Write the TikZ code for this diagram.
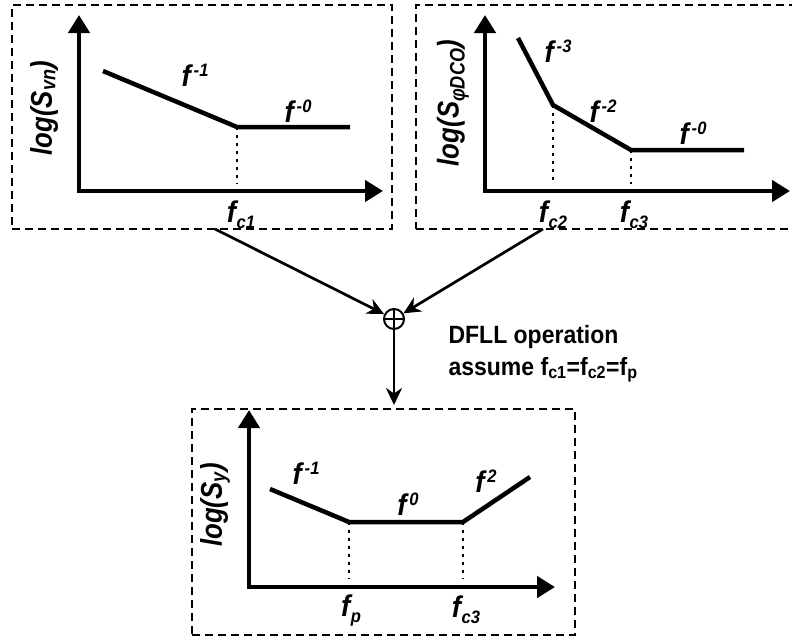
\documentclass[tikz,border=0pt]{standalone}
\usepackage{fontspec}
\setmainfont{Liberation Sans}[FakeStretch=0.92]
\usetikzlibrary{arrows.meta, positioning, calc}
\newcommand{\fpow}[1]{f\kern3pt\raisebox{10pt}{\fontsize{18}{18}\selectfont#1}}
\newcommand{\fsub}[1]{f\kern0.5pt\raisebox{-6pt}{\fontsize{18}{18}\selectfont#1}}

\begin{document}
\begin{tikzpicture}[x=1pt, y=-1pt,
  panel/.style={draw, dash pattern=on 8pt off 5pt, line width=1.7pt,
    inner sep=0pt, outer sep=0pt},
  axis/.style={line width=4.5pt,
    {Triangle[length=18pt,width=21pt]}-{Triangle[length=18pt,width=21pt]}},
  trace/.style={line width=4.5pt},
  guide/.style={line width=2pt, dash pattern=on 3pt off 5pt},
  flow/.style={line width=2.7pt, -{Stealth[length=17pt,width=16pt]}},
  slope/.style={font=\fontsize{30}{30}\selectfont\bfseries\itshape},
  ylab/.style={font=\fontsize{30}{30}\selectfont\bfseries\itshape\addfontfeatures{FakeStretch=0.86},
    rotate=90},
  note/.style={font=\fontsize{25}{30}\selectfont\bfseries, anchor=base west}]
  \useasboundingbox (0,0) rectangle (792,641);

  % Panel frames
  \node[panel, minimum width=380pt, minimum height=224pt] (vnbox)  at (202,117) {};
  \node[panel, minimum width=384pt, minimum height=224pt] (dcobox) at (608,117) {};
  \node[panel, minimum width=383pt, minimum height=226pt] (ybox)   at (383.5,522) {};

  % Voltage noise spectrum
  \draw[axis] (79,15) -- (79,191) -- (383,191);
  \draw[trace] (103,71) -- (237,127) -- (350,127);
  \draw[guide] (237,127) -- (237,184);
  \node[ylab]  (vnlab) at (44,108) {log(S\textsubscript{vn})};
  \node[slope] (vnm1)  at (195,75)  {\fpow{-1}};
  \node[slope] (vnm0)  at (298,111) {\fpow{-0}};
  \node[slope] (fc1)   at (241,215) {\fsub{c1}};

  % DCO phase noise spectrum
  \draw[axis] (485,15) -- (485,191) -- (790,191);
  \draw[trace] (518,38) -- (553,105) -- (631,150) -- (744,150);
  \draw[guide] (553,105) -- (553,184);
  \draw[guide] (631,150) -- (631,184);
  \node[ylab]  (dcolab) at (453,103) {log(S\textsubscript{φDCO})};
  \node[slope] (dcom3)  at (558,51)  {\fpow{-3}};
  \node[slope] (dcom2)  at (603,111) {\fpow{-2}};
  \node[slope] (dcom0)  at (693,133) {\fpow{-0}};
  \node[slope] (fc2)    at (553,215) {\fsub{c2}};
  \node[slope] (fc3top) at (634,215) {\fsub{c3}};

  % Summation
  \node[circle, draw, line width=2pt, minimum size=20pt, inner sep=0pt,
        path picture={
          \draw[line width=1.6pt] (path picture bounding box.north) -- (path picture bounding box.south);
          \draw[line width=1.6pt] (path picture bounding box.west) -- (path picture bounding box.east);
        }] (sum) at (394,319) {};
  \draw[flow] ([xshift=13pt]vnbox.south) -- (sum);
  \draw[flow] ([xshift=-65pt]dcobox.south) -- (sum);
  \draw[flow, shorten >=4pt] (sum) -- (sum |- ybox.north);

  \node[note] (dfll)   at (445,343) {DFLL operation};
  \node[note] (assume) at (445,375) {assume f\textsubscript{c1}=f\textsubscript{c2}=f\textsubscript{p}};

  % Output spectrum
  \draw[axis] (249,410) -- (249,587) -- (555,587);
  \draw[trace] (270,489) -- (349,522) -- (463,522) -- (530,477);
  \draw[guide] (349,522) -- (349,579);
  \draw[guide] (463,522) -- (463,579);
  \node[ylab]  (ylab) at (215,505) {log(S\textsubscript{y})};
  \node[slope] (ym1)  at (306,473) {\fpow{-1}};
  \node[slope] (y0)   at (408,504) {\fpow{0}};
  \node[slope] (y2)   at (486,481) {\fpow{2}};
  \node[slope] (fp)   at (351,610) {\fsub{p}};
  \node[slope] (fc3)  at (466,610) {\fsub{c3}};
\end{tikzpicture}
\end{document}
